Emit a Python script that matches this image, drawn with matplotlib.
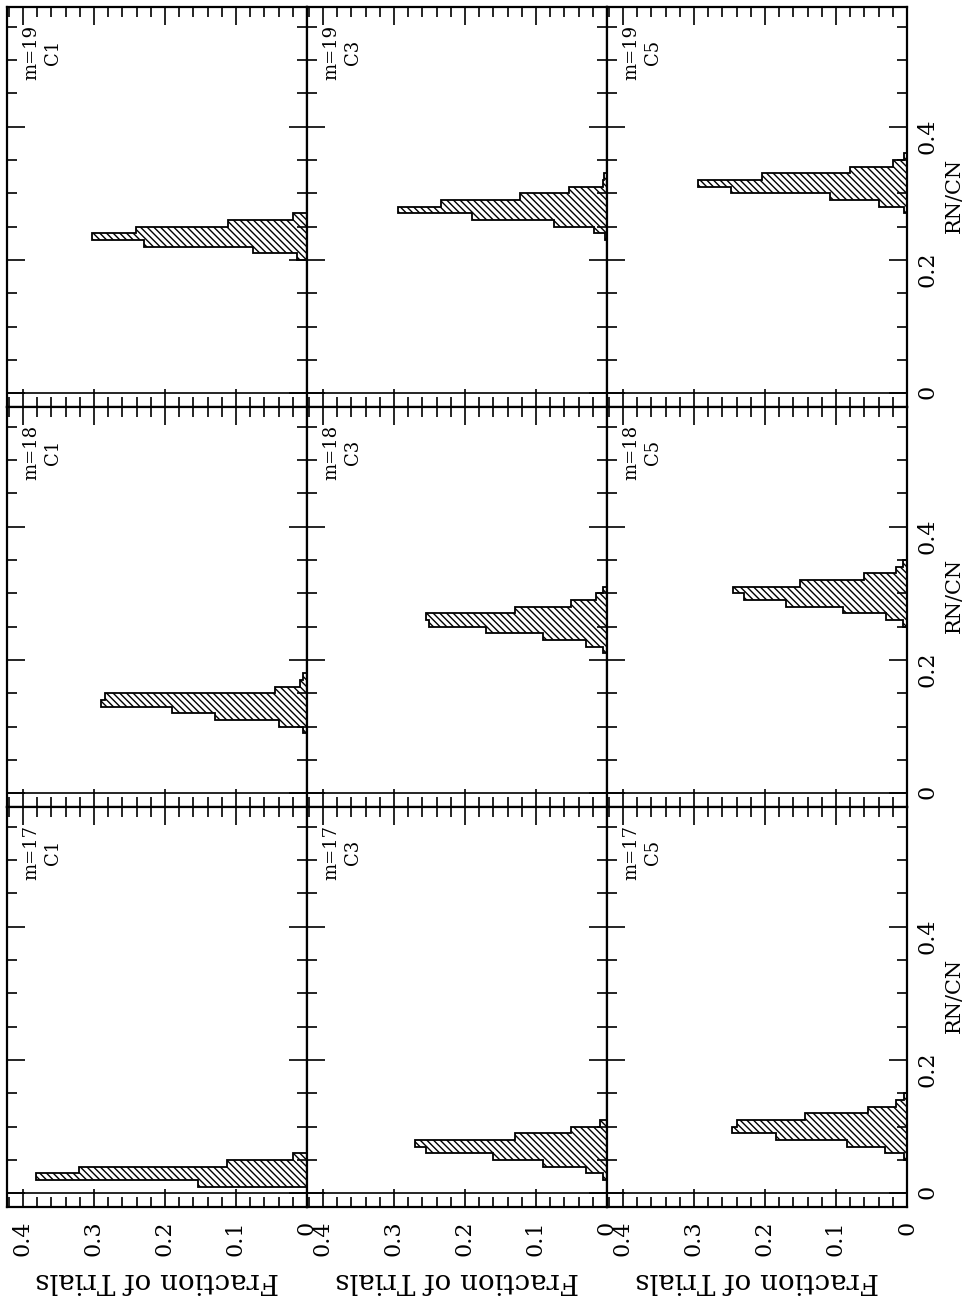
import matplotlib
matplotlib.use("Agg")
import matplotlib.pyplot as plt
from matplotlib.ticker import MultipleLocator, FuncFormatter
import numpy as np

plt.rcParams['font.family'] = ['DejaVu Serif']
plt.rcParams['hatch.linewidth'] = 1.0

# layout of the (rotated) figure: bands top->bottom are m, columns left->right are C
m_values = [19, 18, 17]
c_labels = ['C1', 'C3', 'C5']

BIN = 0.01  # RN/CN bin width
HATCH = chr(92) * 5  # dense "\\\\\" hatching

# first bin edge in RN/CN, then fraction of trials per bin
m19_c1_start = 0.20
m19_c1 = [0.014, 0.076, 0.230, 0.303, 0.241, 0.111, 0.020]
m19_c3_start = 0.23
m19_c3 = [0.003, 0.019, 0.074, 0.190, 0.295, 0.234, 0.122, 0.053, 0.006, 0.004]
m19_c5_start = 0.27
m19_c5 = [0.004, 0.040, 0.109, 0.248, 0.295, 0.204, 0.080, 0.020, 0.004]

m18_c1_start = 0.09
m18_c1 = [0.005, 0.040, 0.130, 0.190, 0.290, 0.285, 0.045, 0.010, 0.005]
m18_c3_start = 0.21
m18_c3 = [0.005, 0.030, 0.090, 0.170, 0.250, 0.255, 0.130, 0.050, 0.015, 0.005]
m18_c5_start = 0.25
m18_c5 = [0.005, 0.030, 0.090, 0.170, 0.230, 0.245, 0.150, 0.060, 0.015, 0.005]

m17_c1_start = 0.01
m17_c1 = [0.154, 0.381, 0.321, 0.113, 0.020]
m17_c3_start = 0.02
m17_c3 = [0.005, 0.030, 0.090, 0.160, 0.255, 0.270, 0.130, 0.050, 0.010]
m17_c5_start = 0.05
m17_c5 = [0.004, 0.031, 0.085, 0.185, 0.247, 0.239, 0.144, 0.055, 0.015, 0.004]

hists = {
    (19, 'C1'): (m19_c1_start, m19_c1),
    (19, 'C3'): (m19_c3_start, m19_c3),
    (19, 'C5'): (m19_c5_start, m19_c5),
    (18, 'C1'): (m18_c1_start, m18_c1),
    (18, 'C3'): (m18_c3_start, m18_c3),
    (18, 'C5'): (m18_c5_start, m18_c5),
    (17, 'C1'): (m17_c1_start, m17_c1),
    (17, 'C3'): (m17_c3_start, m17_c3),
    (17, 'C5'): (m17_c5_start, m17_c5),
}

W, H = 968, 1300
fig = plt.figure(figsize=(W / 100, H / 100), dpi=100)

fmt = FuncFormatter(lambda v, p: '0' if abs(v) < 1e-9 else f'{v:.1f}')

for b, m in enumerate(m_values):
    for c, cl in enumerate(c_labels):
        left = (7 + 300 * c) / W
        bottom = (H - 406.7 - 400 * b) / H
        ax = fig.add_axes([left, bottom, 300 / W, 400 / H])

        start, vals = hists[(m, cl)]
        edges = start + BIN * np.arange(len(vals) + 1)
        ax.stairs(vals, edges, orientation='horizontal', baseline=0, fill=True,
                  facecolor='white', edgecolor='black', hatch=HATCH, lw=1.3)
        # axis line at RN/CN = 0
        ax.axhline(0, color='black', lw=1.2)

        ax.set_xlim(0.4225, 0)
        ax.set_ylim(-0.02, 0.58)
        ax.xaxis.set_major_locator(MultipleLocator(0.1))
        ax.xaxis.set_minor_locator(MultipleLocator(0.02))
        ax.yaxis.set_major_locator(MultipleLocator(0.2))
        ax.yaxis.set_minor_locator(MultipleLocator(0.05))
        ax.xaxis.set_major_formatter(fmt)
        ax.yaxis.set_major_formatter(fmt)
        ax.tick_params(which='both', direction='in', top=True, bottom=True,
                       left=True, right=True, labelbottom=False, labelleft=False,
                       width=1.2)
        ax.tick_params(which='major', length=13)
        ax.tick_params(which='minor', length=7)
        for s in ax.spines.values():
            s.set_linewidth(1.6)

        ax.text(0.118, 0.885, f'm={m}\n{cl}', transform=ax.transAxes,
                rotation=90, ha='center', va='center', multialignment='center',
                fontsize=13, linespacing=1.25)

        if b == len(m_values) - 1:
            ax.tick_params(axis='x', which='major', labelbottom=True,
                           labelrotation=90, labelsize=16, pad=10)
            ax.set_xlabel('Fraction of Trials', rotation=180, fontsize=20)
            ax.xaxis.set_label_coords(0.5, -0.15)
        if c == len(c_labels) - 1:
            ax.tick_params(axis='y', which='major', labelright=True,
                           labelrotation=90, labelsize=16, pad=7)
            ax.yaxis.set_label_position('right')
            ax.set_ylabel('RN/CN', fontsize=15)
            ax.yaxis.set_label_coords(1.127, 0.528)

fig.savefig('out.png', dpi=100)
